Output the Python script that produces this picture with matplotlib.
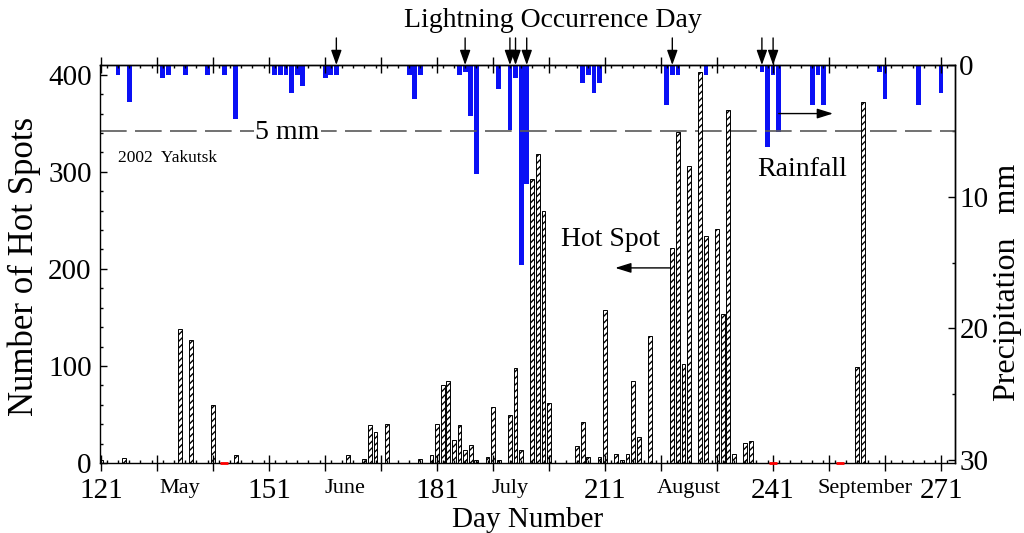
import numpy as np
import matplotlib
matplotlib.use("Agg")
import matplotlib.pyplot as plt
from matplotlib.ticker import MultipleLocator

plt.rcParams["font.family"] = ["Liberation Serif", "DejaVu Serif"]
plt.rcParams["hatch.linewidth"] = 1.0

# ---- Data ----
# number of hot spots per day
hot_days = [121, 125, 135, 137, 141, 145, 165, 168, 169, 170, 172, 178, 180,
            181, 182, 183, 184, 185, 186, 187, 188, 190, 191, 192, 194, 195,
            196, 198, 199, 200, 201, 206, 207, 208, 210, 211, 213, 214, 215,
            216, 217, 219, 223, 224, 225, 226, 228, 229, 231, 232, 233, 234,
            236, 237, 256, 257]
hot_counts = [3, 5, 138, 127, 60, 8, 8, 4, 39, 32, 40, 4, 8,
              40, 80, 85, 24, 39, 13, 19, 3, 6, 58, 3, 49, 98,
              13, 293, 318, 260, 62, 18, 42, 6, 6, 158, 9, 3, 9,
              85, 27, 131, 221, 341, 102, 306, 403, 234, 241, 153, 364, 9,
              21, 23, 99, 372]

# daily precipitation (mm)
rain_days = [124, 126, 132, 133, 136, 140, 143, 145, 152, 153, 154, 155, 156,
             157, 161, 162, 163, 176, 177, 178, 185, 186, 187, 188, 192, 194,
             195, 196, 197, 207, 208, 209, 210, 222, 223, 224, 229, 239, 240,
             241, 242, 248, 249, 250, 260, 261, 267, 271]
rain_mm = [0.76, 2.8, 1.0, 0.76, 0.76, 0.76, 0.76, 4.1, 0.76, 0.76, 0.76, 2.1, 0.76,
           1.6, 1.0, 0.76, 0.76, 0.76, 2.6, 0.76, 0.76, 0.5, 3.9, 8.3, 1.85, 4.9,
           1.0, 15.2, 9.0, 1.4, 0.76, 2.1, 1.4, 3.0, 0.76, 0.76, 0.76, 0.5, 6.2,
           0.76, 5.1, 3.0, 0.76, 3.0, 0.5, 2.6, 3.0, 2.1]

lightning_days = [163, 186, 194, 195, 197, 223, 239, 241]
no_data_days = [143, 241, 253]

day_ticks = [121, 151, 181, 211, 241, 271]
months = ["May", "June", "July", "August", "September"]
month_pos = [135, 164.5, 194, 226, 257.5]

# ---- Figure ----
fig = plt.figure(figsize=(10.24, 5.33), dpi=100)
ax = fig.add_axes([0.0977, 0.1313, 0.835, 0.7467])
ax2 = ax.twinx()
ax.set_zorder(2)
ax.patch.set_visible(False)

# hot spots
ax.bar(hot_days, hot_counts, width=0.7, color="white", edgecolor="black",
       hatch="/////", linewidth=0.7)
ax.plot(no_data_days, np.zeros(len(no_data_days)), ls="none", marker="_",
        ms=6, mew=2, color="red", clip_on=False, zorder=5)

# rainfall (inverted right axis)
ax2.bar(rain_days, rain_mm, width=0.85, color="#0a10f5", linewidth=0)
ax2.axhline(5, color="0.35", lw=1.2, dashes=(16, 5))
ax2.text(154.3, 5.1, "5 mm", fontsize=20, ha="center", va="center",
         bbox=dict(facecolor="white", edgecolor="none", pad=1))

ax.set_xlim(120.8, 273.5)
ax.set_ylim(0, 410)
ax2.set_ylim(30.22, 0)

# x ticks: every 10 days, labelled every 30, minor every 2
major_x = np.arange(121, 272, 10)
ax.set_xticks(major_x)
ax.set_xticklabels([str(d) if d in day_ticks else "" for d in major_x])
ax.xaxis.set_minor_locator(MultipleLocator(2))
ax.tick_params(axis="x", which="major", direction="inout", length=12,
               width=1, top=True, labelsize=21, pad=5)
ax.tick_params(axis="x", which="minor", direction="in", length=2.5,
               width=1, top=True)
for m, p in zip(months, month_pos):
    ax.text(p, -0.04, m, transform=ax.get_xaxis_transform(), ha="center",
            va="top", fontsize=16)

# y ticks
ax.yaxis.set_major_locator(MultipleLocator(100))
ax.yaxis.set_minor_locator(MultipleLocator(20))
ax.tick_params(axis="y", which="major", direction="in", length=5, width=1,
               labelsize=21, pad=6)
ax.tick_params(axis="y", which="minor", direction="in", length=2.5, width=1)
ax2.yaxis.set_major_locator(MultipleLocator(10))
ax2.yaxis.set_minor_locator(MultipleLocator(5))
ax2.tick_params(axis="y", which="major", direction="in", length=5, width=1,
                labelsize=21, pad=3)
ax2.tick_params(axis="y", which="minor", direction="in", length=2.5, width=1)

for a in (ax, ax2):
    for s in a.spines.values():
        s.set_linewidth(1)
ax2.spines["left"].set_visible(False)
ax2.spines["bottom"].set_visible(False)

# labels
ax.set_xlabel("Day Number", fontsize=21, labelpad=2)
fig.text(0.024, 0.50, "Number of Hot Spots", rotation=90, ha="center",
         va="center", fontsize=25)
fig.text(0.984, 0.47, "Precipitation   mm", rotation=90, ha="center",
         va="center", fontsize=23)

# lightning arrows
for d in lightning_days:
    ax.annotate("", xy=(d, 1.0), xytext=(d, 1.068),
                xycoords=("data", "axes fraction"),
                arrowprops=dict(arrowstyle="-|>,head_length=0.9,head_width=0.32",
                                mutation_scale=10, color="black", lw=1,
                                shrinkA=0, shrinkB=0))
fig.text(0.540, 0.962, "Lightning Occurrence Day", ha="center", va="center",
         fontsize=20)

# annotations
ax.text(124, 314, "2002  Yakutsk", fontsize=12.5, ha="left", va="center")
ax.text(246.1, 302, "Rainfall", fontsize=20, ha="center", va="center")
ax.annotate("", xy=(251.7, 360), xytext=(242, 360),
            arrowprops=dict(arrowstyle="-|>,head_length=0.8,head_width=0.25",
                            mutation_scale=12, color="black", lw=1,
                            shrinkA=0, shrinkB=0))
ax.text(211.9, 230, "Hot Spot", fontsize=20, ha="center", va="center")
ax.annotate("", xy=(212.8, 201), xytext=(222.6, 201),
            arrowprops=dict(arrowstyle="-|>,head_length=0.8,head_width=0.25",
                            mutation_scale=12, color="black", lw=1,
                            shrinkA=0, shrinkB=0))

fig.savefig("out.png", dpi=100)
